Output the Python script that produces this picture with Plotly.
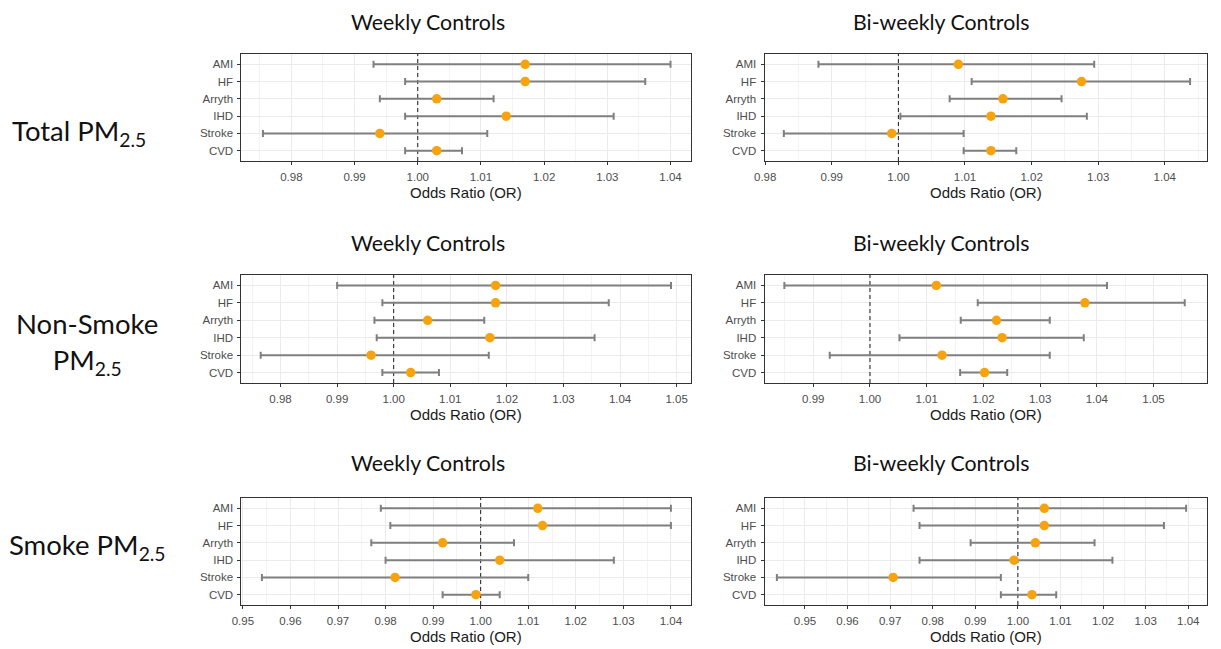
import numpy as np
import plotly.graph_objects as go

# ---------------- data ----------------
categories = ["AMI", "HF", "Arryth", "IHD", "Stroke", "CVD"]

total_weekly_or = [1.017, 1.017, 1.003, 1.014, 0.994, 1.003]
total_weekly_lo = [0.993, 0.998, 0.994, 0.998, 0.9755, 0.998]
total_weekly_hi = [1.040, 1.036, 1.012, 1.031, 1.011, 1.007]

total_biweekly_or = [1.009, 1.0275, 1.0157, 1.0139, 0.999, 1.0139]
total_biweekly_lo = [0.988, 1.011, 1.0077, 1.0003, 0.9828, 1.0098]
total_biweekly_hi = [1.0294, 1.0438, 1.0245, 1.0283, 1.0098, 1.0177]

nonsmoke_weekly_or = [1.018, 1.018, 1.006, 1.017, 0.996, 1.003]
nonsmoke_weekly_lo = [0.990, 0.998, 0.9966, 0.997, 0.9765, 0.998]
nonsmoke_weekly_hi = [1.049, 1.038, 1.016, 1.0355, 1.0168, 1.008]

nonsmoke_biweekly_or = [1.0117, 1.0379, 1.0223, 1.0233, 1.0127, 1.0202]
nonsmoke_biweekly_lo = [0.9849, 1.019, 1.016, 1.0052, 0.9929, 1.0159]
nonsmoke_biweekly_hi = [1.0418, 1.0555, 1.0317, 1.0377, 1.0317, 1.0242]

smoke_weekly_or = [1.012, 1.013, 0.992, 1.004, 0.982, 0.999]
smoke_weekly_lo = [0.979, 0.981, 0.977, 0.980, 0.954, 0.992]
smoke_weekly_hi = [1.040, 1.040, 1.007, 1.028, 1.010, 1.004]

smoke_biweekly_or = [1.0062, 1.0062, 1.0041, 0.9991, 0.9707, 1.0033]
smoke_biweekly_lo = [0.9755, 0.9769, 0.9889, 0.9769, 0.9434, 0.996]
smoke_biweekly_hi = [1.0395, 1.0343, 1.018, 1.0222, 0.996, 1.009]

x_ranges = [
    [0.9721, 1.0433], [0.9799, 1.0464],
    [0.9731, 1.0526], [0.9814, 1.0595],
    [0.9497, 1.0443], [0.9405, 1.0445],
]

reference_or = 1.0

panels = [
    (total_weekly_or, total_weekly_lo, total_weekly_hi),
    (total_biweekly_or, total_biweekly_lo, total_biweekly_hi),
    (nonsmoke_weekly_or, nonsmoke_weekly_lo, nonsmoke_weekly_hi),
    (nonsmoke_biweekly_or, nonsmoke_biweekly_lo, nonsmoke_biweekly_hi),
    (smoke_weekly_or, smoke_weekly_lo, smoke_weekly_hi),
    (smoke_biweekly_or, smoke_biweekly_lo, smoke_biweekly_hi),
]

col_titles = ["Weekly Controls", "Bi-weekly Controls"]
row_labels = ["Total PM<sub>2.5</sub>", "Non-Smoke<br>PM<sub>2.5</sub>", "Smoke PM<sub>2.5</sub>"]
x_title = "Odds Ratio (OR)"

# ---------------- layout geometry (pixels) ----------------
W, H = 1221, 649


def hx(x):
    # horizontal placement correction for the page offset
    return (x - 11) / 0.989


col_px = [(hx(241), hx(690)), (hx(763), hx(1205))]
row_px = [(54, 161), (275, 383), (498, 605)]


def xd(a, b):
    return [a / W, b / W]


def yd(t, b):
    return [1 - b / H, 1 - t / H]


ncat = len(categories)
ypos = np.arange(ncat)[::-1]          # AMI at top, CVD at bottom
y_lo, y_hi = -0.6, ncat - 0.4

fig = go.Figure()
layout = dict(
    width=W, height=H,
    margin=dict(l=0, r=0, t=0, b=0),
    paper_bgcolor="white", plot_bgcolor="white",
    showlegend=False,
    font=dict(family="Liberation Sans, Arial, sans-serif", color="#4D4D4D"),
)
annotations = []

TICKFONT = dict(family="Liberation Sans, Arial, sans-serif", size=11.5, color="#4D4D4D")

for i, (orv, lo, hi) in enumerate(panels):
    r, c = divmod(i, 2)
    n = i + 1
    xa = "x" if n == 1 else f"x{n}"
    ya = "y" if n == 1 else f"y{n}"
    orv = np.array(orv)
    lo = np.array(lo)
    hi = np.array(hi)
    # dashed reference line at OR = 1
    fig.add_trace(go.Scatter(
        x=[reference_or, reference_or], y=[y_lo, y_hi], xaxis=xa, yaxis=ya,
        mode="lines", line=dict(color="#1A1A1A", width=1, dash="4px,3px"),
        hoverinfo="skip",
    ))
    fig.add_trace(go.Scatter(
        x=orv, y=ypos, xaxis=xa, yaxis=ya, mode="markers",
        marker=dict(color="#F7A30F", size=9.5, line=dict(width=0)),
        error_x=dict(type="data", symmetric=False, array=hi - orv,
                     arrayminus=orv - lo, color="#7F7F7F", thickness=2, width=3.5),
        text=categories, hoverinfo="x+text",
    ))
    xkey = "xaxis" if n == 1 else f"xaxis{n}"
    ykey = "yaxis" if n == 1 else f"yaxis{n}"
    layout[xkey] = dict(
        domain=xd(*col_px[c]), anchor=ya, range=x_ranges[i],
        tick0=0, dtick=0.01, tickformat=".2f",
        showgrid=True, gridcolor="#EBEBEB", gridwidth=1,
        minor=dict(dtick=0.005, showgrid=True, gridcolor="#F4F4F4", gridwidth=0.6),
        showline=True, mirror=True, linecolor="#333333", linewidth=1,
        ticks="outside", ticklen=3, tickcolor="#333333", tickwidth=1,
        tickfont=TICKFONT, zeroline=False, ticklabelstandoff=2,
    )
    layout[ykey] = dict(
        domain=yd(*row_px[r]), anchor=xa,
        range=[y_lo, y_hi], tickmode="array", tickvals=list(ypos), ticktext=categories,
        showgrid=True, gridcolor="#EBEBEB", gridwidth=1,
        showline=True, mirror=True, linecolor="#333333", linewidth=1,
        ticks="outside", ticklen=3, tickcolor="#333333", tickwidth=1,
        tickfont=TICKFONT, zeroline=False, ticklabelstandoff=2,
    )
    # axis title
    cx = (col_px[c][0] + col_px[c][1]) / 2 / W
    annotations.append(dict(
        text=x_title, xref="paper", yref="paper", x=cx,
        y=1 - (row_px[r][1] + 31) / H, xanchor="center", yanchor="middle",
        showarrow=False, font=dict(family="Liberation Sans, Arial, sans-serif",
                                   size=15, color="#1A1A1A"),
    ))

# column titles per row
title_y = [22, 243, 463]
title_x = [hx(427), hx(940)]
for r in range(3):
    for c in range(2):
        annotations.append(dict(
            text=col_titles[c], xref="paper", yref="paper",
            x=title_x[c] / W, y=1 - title_y[r] / H, xanchor="center", yanchor="middle",
            showarrow=False, font=dict(family="Lato, Open Sans, sans-serif", size=21.3, color="#111111"),
        ))

# row labels
row_label_pos = [(hx(79), 133), (hx(87), 343), (hx(87), 546)]
for r in range(3):
    annotations.append(dict(
        text=row_labels[r], xref="paper", yref="paper",
        x=row_label_pos[r][0] / W, y=1 - row_label_pos[r][1] / H,
        xanchor="center", yanchor="middle", align="center",
        showarrow=False, font=dict(family="Lato, Open Sans, sans-serif", size=27.5, color="#111111"),
    ))

layout["annotations"] = annotations
fig.update_layout(**layout)
fig.write_html("out.html")
